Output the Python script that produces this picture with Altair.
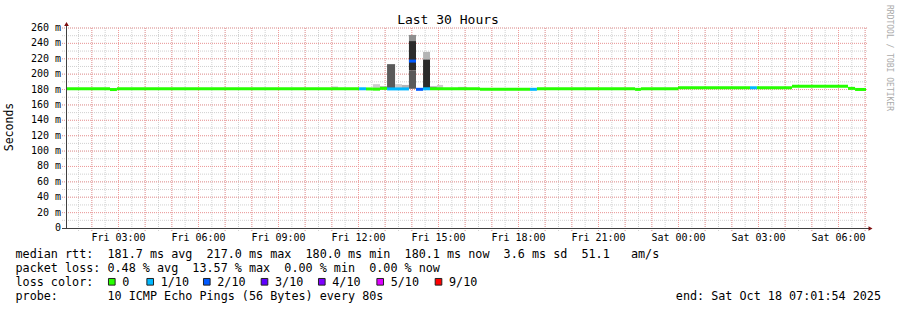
import altair as alt
import numpy as np
import pandas as pd

# ---------------- data (x = hours after graph start, Fri 01:01:54) ----------------
SEG_START = [0.0, 1.65, 1.91, 10.99, 11.25, 11.51, 11.775, 12.04, 12.86, 13.125,
             13.39, 13.65, 15.525, 17.40, 17.66, 21.34, 21.56, 22.95, 25.65, 25.91,
             27.225, 29.325, 29.59]
GRAPH_END_H = 30.0
MEDIAN_MS = [181.0, 180.0, 181.0, 181.0, 180.8, 180.5, 181.5, 180.8, 217.0, 180.3,
             181.0, 181.0, 180.3, 180.3, 181.0, 180.2, 181.0, 182.3, 182.3, 182.3,
             184.3, 181.5, 180.1]
LOSS_IDX = [0, 0, 0, 1, 0, 0, 0, 1, 2, 2, 1, 0, 0, 1, 0, 0, 0, 0, 1, 0, 0, 0, 0]

SMOKE_START = [9.975, 11.51, 11.775, 12.04, 12.34, 12.6, 12.86, 12.86, 12.86, 13.39, 13.39, 13.65, 13.91, 14.7]
SMOKE_END = [10.2, 11.775, 12.04, 12.34, 12.6, 12.86, 13.125, 13.125, 13.125, 13.65, 13.65, 13.91, 14.14, 15.04]
SMOKE_LOW = [181, 181, 181, 181, 181, 181, 243, 205, 181, 219, 181, 181, 181, 181]
SMOKE_HIGH = [184, 187, 184, 213, 187, 186, 251, 243, 205, 229, 219, 184, 186, 183.5]
SMOKE_LEVEL = [0, 0, 2, 3, 0, 1, 2, 4, 3, 1, 4, 2, 0, 0]

LOSS_LABELS = ["0", "1/10", "2/10", "3/10", "4/10", "5/10", "9/10"]
LOSS_COLORS = ["#26ff00", "#00b8ff", "#0059ff", "#5e00ff", "#7e00ff", "#dd00ff", "#ff0000"]

FIRST_TICK_H = 1.968333  # Fri 03:00
TICK_LABELS = ["Fri 03:00", "Fri 06:00", "Fri 09:00", "Fri 12:00", "Fri 15:00",
               "Fri 18:00", "Fri 21:00", "Sat 00:00", "Sat 03:00", "Sat 06:00"]
Y_TICKS = list(range(0, 261, 20))

TITLE = "Last 30 Hours"
Y_TITLE = "Seconds"
CREDIT = "RRDTOOL / TOBI OETIKER"
LINE1 = "median rtt:  181.7 ms avg  217.0 ms max  180.0 ms min  180.1 ms now  3.6 ms sd  51.1   am/s"
LINE2 = "packet loss: 0.48 % avg  13.57 % max  0.00 % min  0.00 % now"
LINE3 = "loss color:"
LINE4 = "probe:       10 ICMP Echo Pings (56 Bytes) every 80s"
END_TEXT = "end: Sat Oct 18 07:01:54 2025"

# ---------------- styles / layout ----------------
FONT = "DejaVu Sans Mono"
SHADES = ["#cccccc", "#b4b4b4", "#8f8f8f", "#5a5a5a", "#2b2b2b"]
GRID_MINOR = "#d0d0d0"
GRID_MAJOR = "#f09c9c"
AXIS_COLOR = "#404040"
ARROW_COLOR = "#7f1010"
LEFT, TOP = 66, 28
SQ_LEFT_PX = [108.3, 146.7, 203.3, 261.0, 318.3, 376.7, 435.0]

NB = "\u00a0"


def nb(s):
    return s.replace(" ", NB)


xs = alt.Scale(domain=[0, GRAPH_END_H], nice=False, zero=False)
ys = alt.Scale(domain=[0, 260], nice=False, zero=False)
cs = alt.Scale(domain=LOSS_LABELS, range=LOSS_COLORS)

# ---------------- frames ----------------
seg_end = SEG_START[1:] + [GRAPH_END_H]
seg_df = pd.DataFrame({"s": SEG_START, "e": seg_end, "v": MEDIAN_MS,
                       "loss": [LOSS_LABELS[i] for i in LOSS_IDX]})

smoke_df = pd.DataFrame({"s": SMOKE_START, "e": SMOKE_END, "lo": SMOKE_LOW,
                         "hi": SMOKE_HIGH, "lvl": SMOKE_LEVEL})

vminor = pd.DataFrame({"h": np.arange(0.468333, GRAPH_END_H, 0.5)})
vmajor = pd.DataFrame({"h": np.arange(0.968333, GRAPH_END_H, 1.0)})
hminor = pd.DataFrame({"v": np.arange(10, 261, 10)})
hmajor = pd.DataFrame({"v": np.arange(20, 261, 20)})

xt_df = pd.DataFrame({"h": [FIRST_TICK_H + 3 * k for k in range(len(TICK_LABELS))],
                      "lab": TICK_LABELS})
yt_df = pd.DataFrame({"v": Y_TICKS,
                      "lab": [("0" + NB + NB) if t == 0 else f"{t}{NB}m" for t in Y_TICKS]})

sq_df = pd.DataFrame({"loss": LOSS_LABELS,
                      "px": [p + 3.5 - LEFT for p in SQ_LEFT_PX],
                      "tx": [p + 14 - LEFT for p in SQ_LEFT_PX]})

one = pd.DataFrame({"k": [0]})


# ---------------- layers ----------------
def vgrid(df, color):
    return alt.Chart(df).mark_rule(color=color, strokeDash=[1, 1], strokeWidth=1).encode(
        x=alt.X("h:Q", scale=xs, axis=None), y=alt.value(0), y2=alt.value(203))


def hgrid(df, color):
    return alt.Chart(df).mark_rule(color=color, strokeDash=[1, 1], strokeWidth=1).encode(
        y=alt.Y("v:Q", scale=ys, axis=None), x=alt.value(-4), x2=alt.value(802))


smoke = alt.Chart(smoke_df).mark_rect().encode(
    x=alt.X("s:Q", scale=xs, axis=None), x2="e:Q",
    y=alt.Y("lo:Q", scale=ys, axis=None), y2="hi:Q",
    fill=alt.Fill("lvl:O", scale=alt.Scale(domain=[0, 1, 2, 3, 4], range=SHADES), legend=None))

median = alt.Chart(seg_df).mark_rule(strokeWidth=3, strokeCap="butt").encode(
    x=alt.X("s:Q", scale=xs, axis=None), x2="e:Q",
    y=alt.Y("v:Q", scale=ys, axis=None),
    color=alt.Color("loss:N", scale=cs, legend=None))

y_axis = alt.Chart(one).mark_rule(color=AXIS_COLOR, strokeWidth=1).encode(
    x=alt.value(0.5), y=alt.value(-5), y2=alt.value(201))
x_axis = alt.Chart(one).mark_rule(color=AXIS_COLOR, strokeWidth=1).encode(
    y=alt.value(200.5), x=alt.value(-4), x2=alt.value(803))
arrow_up = alt.Chart(one).mark_point(shape="triangle-up", filled=True, size=22,
                                     color=ARROW_COLOR, opacity=1).encode(
    x=alt.value(0.5), y=alt.value(-4))
arrow_right = alt.Chart(one).mark_point(shape="triangle-right", filled=True, size=22,
                                        color=ARROW_COLOR, opacity=1).encode(
    x=alt.value(804.5), y=alt.value(200.5))

xt = alt.Chart(xt_df).mark_text(font=FONT, fontSize=10, align="center",
                                baseline="alphabetic", color="#000000").encode(
    x=alt.X("h:Q", scale=xs, axis=None), y=alt.value(240.7 - TOP), text="lab:N")
yt = alt.Chart(yt_df).mark_text(font=FONT, fontSize=10, align="right",
                                baseline="middle", color="#000000").encode(
    y=alt.Y("v:Q", scale=ys, axis=None), x=alt.value(61 - LEFT), text="lab:N")


def label(text, x, y, size, align="left", baseline="alphabetic", angle=0, color="#000000"):
    kw = dict(font=FONT, fontSize=size, align=align, baseline=baseline, color=color)
    if angle:
        kw["angle"] = angle
    return alt.Chart(pd.DataFrame({"t": [nb(text)]})).mark_text(**kw).encode(
        x=alt.value(x - LEFT), y=alt.value(y - TOP), text="t:N")


title = label(TITLE, 448, 24, 13, align="center")
ytitle = label(Y_TITLE, 10, 127, 11.5, align="center", baseline="middle", angle=270)
credit = label(CREDIT, 888.5, 5, 8, align="left", baseline="middle", angle=90, color="#aaaaaa")
l1 = label(LINE1, 15.5, 257.5, 11.75)
l2 = label(LINE2, 15.5, 271.7, 11.75)
l3 = label(LINE3, 15.5, 285.9, 11.75)
l4 = label(LINE4, 15.5, 300.1, 11.75)
endt = label(END_TEXT, 881, 300.1, 11.75, align="right")

squares = alt.Chart(sq_df).mark_square(size=44, filled=True, stroke="#222222",
                                       strokeWidth=1, opacity=1).encode(
    x=alt.X("px:Q", scale=None, axis=None), y=alt.value(281.8 - TOP),
    color=alt.Color("loss:N", scale=cs, legend=None))
sq_labels = alt.Chart(sq_df).mark_text(font=FONT, fontSize=11.75, align="left",
                                       baseline="alphabetic", color="#000000").encode(
    x=alt.X("tx:Q", scale=None, axis=None), y=alt.value(285.9 - TOP), text="loss:N")

chart = alt.layer(
    vgrid(vminor, GRID_MINOR), hgrid(hminor, GRID_MINOR),
    vgrid(vmajor, GRID_MAJOR), hgrid(hmajor, GRID_MAJOR),
    smoke, median, y_axis, x_axis, arrow_up, arrow_right,
    xt, yt, title, ytitle, credit, l1, l2, l3, l4, endt, squares, sq_labels,
).properties(
    width=800, height=200,
    autosize=alt.AutoSizeParams(type="none"),
    padding={"left": LEFT, "top": TOP, "right": 31, "bottom": 82},
    background="white",
).configure_view(stroke=None)

chart.save("out.html", embed_options={"renderer": "svg", "actions": False})
